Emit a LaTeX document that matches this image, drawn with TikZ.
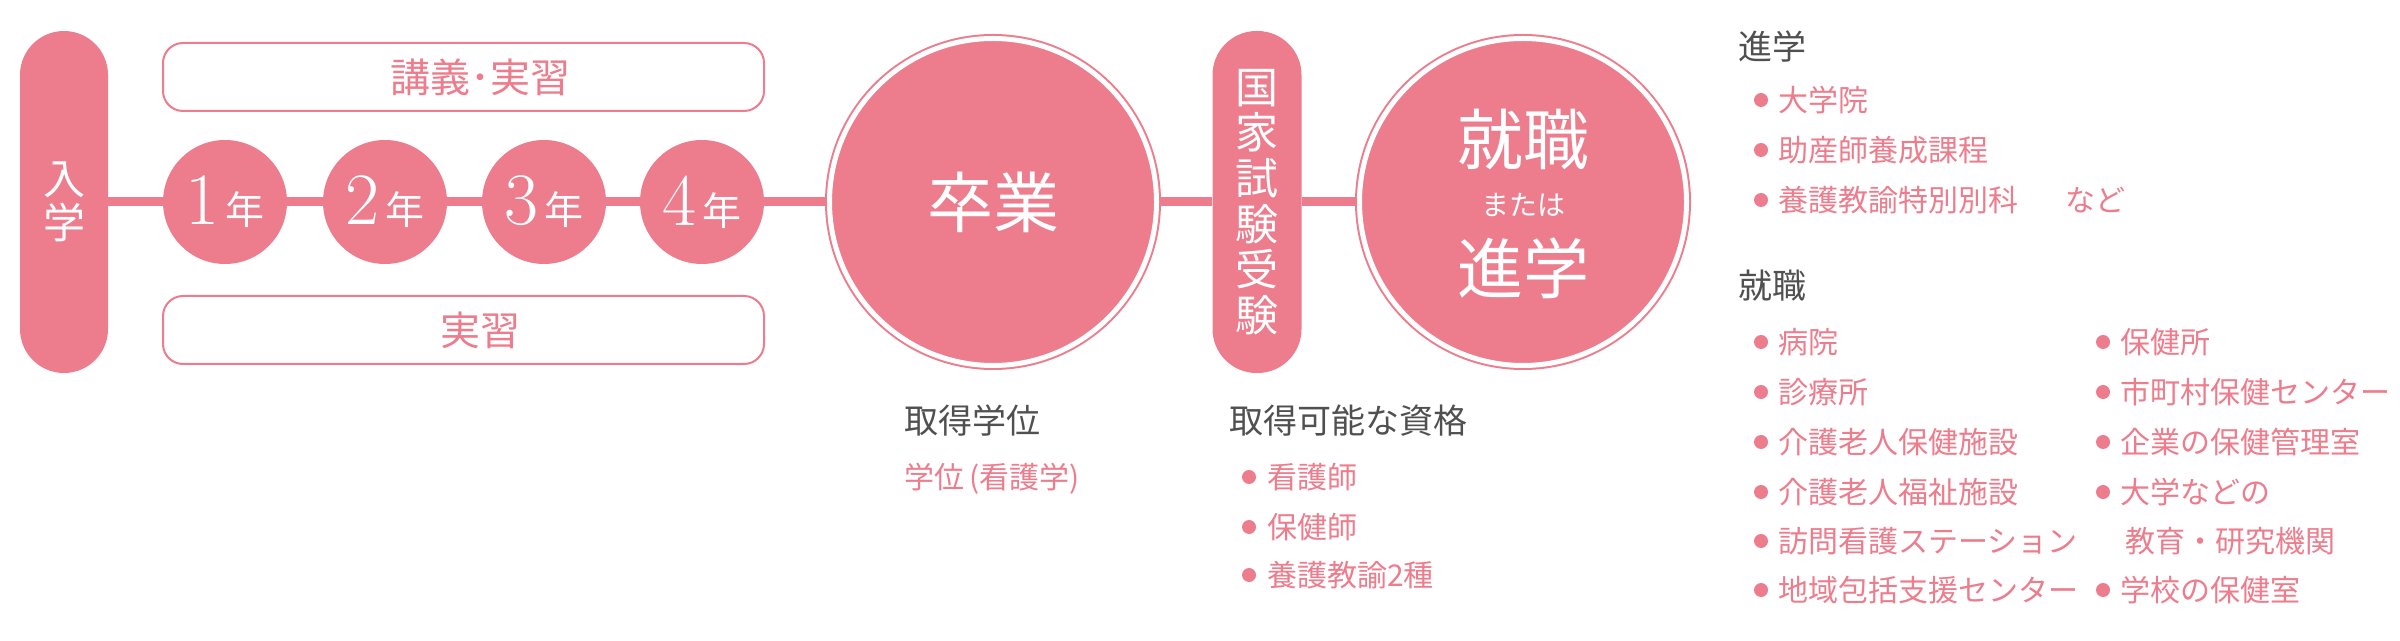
\documentclass[tikz,border=0pt]{standalone}
\usepackage{fontspec}
\newfontfamily\jp{Noto Sans CJK JP}
\definecolor{pk}{RGB}{237,124,140}
\definecolor{headgray}{RGB}{80,80,80}

\tikzset{
    pill/.style={rectangle, rounded corners=44pt, fill=pk, text=white, inner sep=0pt, align=center, minimum width=88pt, minimum height=342pt},
    yearc/.style={circle, fill=pk, text=white, inner sep=0pt, minimum size=124pt},
    bigc/.style={circle, fill=pk, draw=pk, double=white, double distance=5pt, line width=2pt, minimum size=327pt, outer sep=4.5pt, inner sep=0pt},
    whitetxt/.style={text=white, inner sep=0pt},
    boxline/.style={draw=pk, line width=2pt, rounded corners=20pt},
    boxtxt/.style={text=pk, inner sep=0pt, font=\jp\fontsize{40}{40}\selectfont},
    head/.style={anchor=west, inner sep=0pt, text=headgray, font=\jp\fontsize{34}{34}\selectfont, text height=30pt, text depth=4pt},
    item/.style={anchor=west, inner sep=0pt, text=pk, font=\jp\fontsize{30}{30}\selectfont, text height=26.4pt, text depth=3.6pt},
    flow/.style={pk, line width=9pt}
}

\begin{document}
\begin{tikzpicture}[x=1pt,y=1pt]
    \useasboundingbox (0,0) rectangle (2400,640);

    \draw[boxline] (163,529) rectangle (764,597);
    \node[boxtxt] (lectures) at (480,563) {講義･実習};
    \draw[boxline] (163,276) rectangle (764,344);
    \node[boxtxt] (practicum) at (480,310) {実習};

    \node[pill, font=\jp\fontsize{42}{44}\selectfont] (entry) at (64,438) {入\\学};

    \node[yearc] (y1) at (225,438) {{\fontsize{74}{74}\selectfont 1}\hspace{6pt}{\jp\fontsize{39}{39}\selectfont 年}};
    \node[yearc] (y2) at (385,438) {{\fontsize{74}{74}\selectfont 2}\hspace{6pt}{\jp\fontsize{39}{39}\selectfont 年}};
    \node[yearc] (y3) at (544,438) {{\fontsize{74}{74}\selectfont 3}\hspace{6pt}{\jp\fontsize{39}{39}\selectfont 年}};
    \node[yearc] (y4) at (702,438) {{\fontsize{74}{74}\selectfont 4}\hspace{6pt}{\jp\fontsize{39}{39}\selectfont 年}};

    \node[bigc, text=white, font=\jp\fontsize{66}{66}\selectfont] (grad) at (993,438) {卒業};

    \node[pill, minimum width=89pt, font=\jp\fontsize{43}{45.7}\selectfont] (exam) at (1257,438) {国\\家\\試\\験\\受\\験};

    \node[bigc] (career) at (1523,438) {};
    \node[whitetxt, font=\jp\fontsize{66}{66}\selectfont] (careerA) at (1523,501) {就職};
    \node[whitetxt, font=\jp\fontsize{28}{28}\selectfont] (careerB) at (1523,435) {または};
    \node[whitetxt, font=\jp\fontsize{66}{66}\selectfont] (careerC) at (1523,372) {進学};

    \draw[flow] (entry) -- (y1) -- (y2) -- (y3) -- (y4) -- (grad) -- (exam) -- (career);

    \node[head] (degreeHead) at (904,219) {取得学位};
    \node[item] (degree) at (904,163) {学位\hspace{5pt}(看護学)};

    \node[head] (licenseHead) at (1229,219) {取得可能な資格};
    \node[item] (lic1) at (1267,163) {看護師};
    \node[item] (lic2) at (1267,113) {保健師};
    \node[item] (lic3) at (1267,65) {養護教諭2種};
    \fill[pk] ([xshift=-18pt]lic1.west) circle (7pt);
    \fill[pk] ([xshift=-18pt]lic2.west) circle (7pt);
    \fill[pk] ([xshift=-18pt]lic3.west) circle (7pt);

    \node[head] (studyHead) at (1738,593) {進学};
    \node[item] (st1) at (1778,540) {大学院};
    \node[item] (st2) at (1778,490) {助産師養成課程};
    \node[item] (st3) at (1778,440) {養護教諭特別別科};
    \node[item] (stEtc) at (2065,440) {など};
    \fill[pk] ([xshift=-17pt]st1.west) circle (7pt);
    \fill[pk] ([xshift=-17pt]st2.west) circle (7pt);
    \fill[pk] ([xshift=-17pt]st3.west) circle (7pt);

    \node[head] (jobHead) at (1738,354) {就職};
    \node[item] (job1) at (1778,298) {病院};
    \node[item] (job2) at (1778,248) {診療所};
    \node[item] (job3) at (1778,198) {介護老人保健施設};
    \node[item] (job4) at (1778,148) {介護老人福祉施設};
    \node[item] (job5) at (1778,99) {訪問看護ステーション};
    \node[item] (job6) at (1778,50) {地域包括支援センター};
    \fill[pk] ([xshift=-17pt]job1.west) circle (7pt);
    \fill[pk] ([xshift=-17pt]job2.west) circle (7pt);
    \fill[pk] ([xshift=-17pt]job3.west) circle (7pt);
    \fill[pk] ([xshift=-17pt]job4.west) circle (7pt);
    \fill[pk] ([xshift=-17pt]job5.west) circle (7pt);
    \fill[pk] ([xshift=-17pt]job6.west) circle (7pt);

    \node[item] (job7) at (2120,298) {保健所};
    \node[item] (job8) at (2120,248) {市町村保健センター};
    \node[item] (job9) at (2120,198) {企業の保健管理室};
    \node[item] (job10) at (2120,148) {大学などの};
    \node[item] (job10b) at (2125,99) {教育・研究機関};
    \node[item] (job11) at (2120,50) {学校の保健室};
    \fill[pk] ([xshift=-17pt]job7.west) circle (7pt);
    \fill[pk] ([xshift=-17pt]job8.west) circle (7pt);
    \fill[pk] ([xshift=-17pt]job9.west) circle (7pt);
    \fill[pk] ([xshift=-17pt]job10.west) circle (7pt);
    \fill[pk] ([xshift=-17pt]job11.west) circle (7pt);
\end{tikzpicture}
\end{document}
